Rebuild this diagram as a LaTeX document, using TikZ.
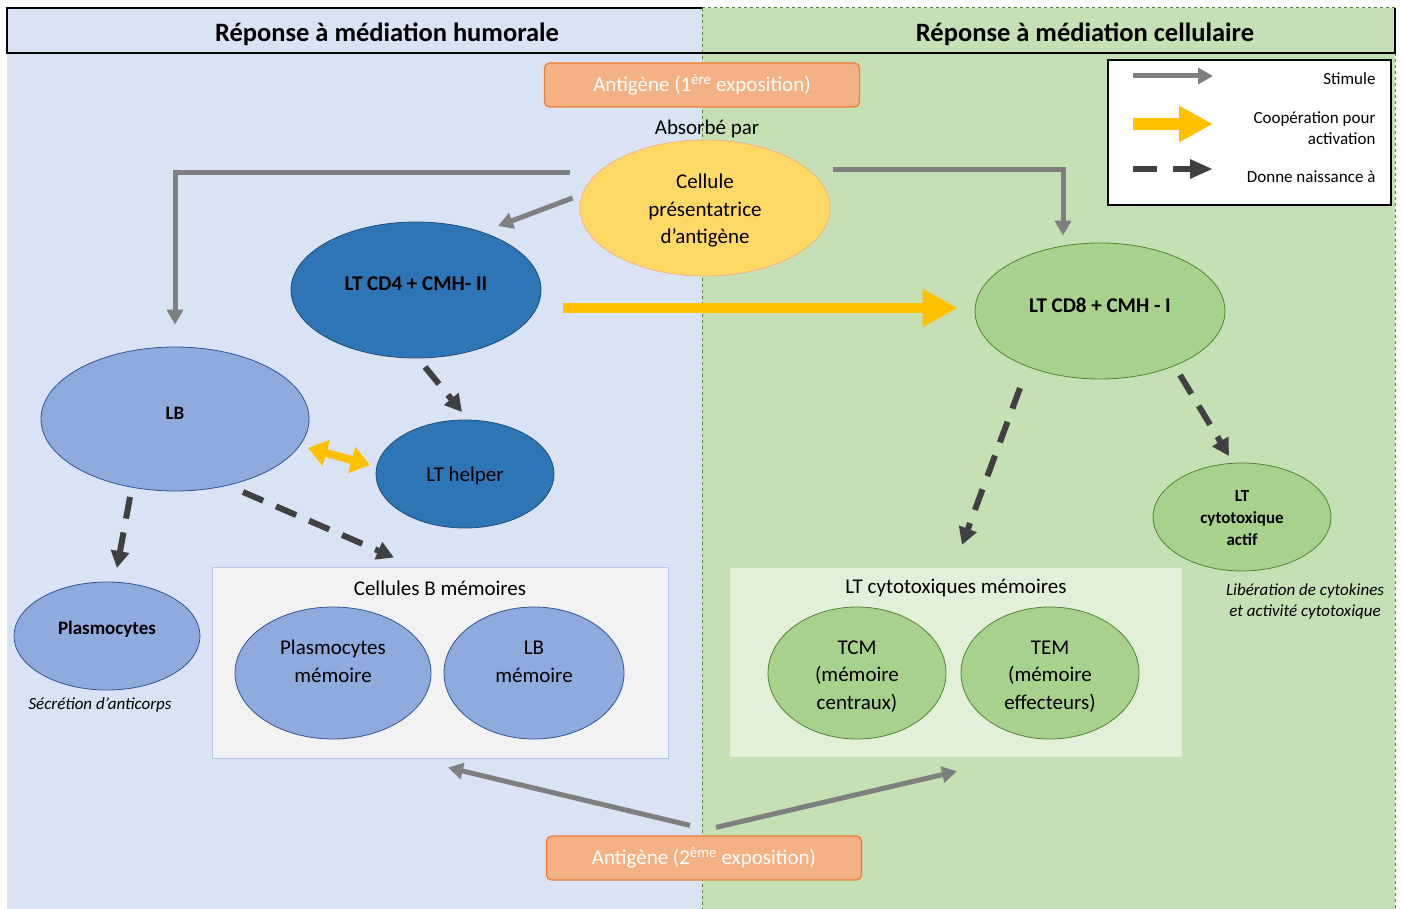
\documentclass[tikz,border=0pt]{standalone}
\usepackage{fontspec}
\setmainfont{Carlito}
\usetikzlibrary{arrows.meta,shapes.geometric}
\definecolor{panelblue}{HTML}{DAE3F3}
\definecolor{panelgreen}{HTML}{C5E0B4}
\definecolor{divgreen}{HTML}{548235}
\definecolor{agfill}{HTML}{F4B183}
\definecolor{agdraw}{HTML}{ED7D31}
\definecolor{cpafill}{HTML}{FFD966}
\definecolor{cpadraw}{HTML}{F4B183}
\definecolor{lbfill}{HTML}{8FAADC}
\definecolor{lbdraw}{HTML}{2F5597}
\definecolor{ltfill}{HTML}{2E75B6}
\definecolor{ltdraw}{HTML}{1F4E79}
\definecolor{cdfill}{HTML}{A9D18E}
\definecolor{cddraw}{HTML}{548235}
\definecolor{coopyellow}{HTML}{FFC000}
\definecolor{stimgray}{HTML}{7F7F7F}
\definecolor{darkdash}{HTML}{404040}
\definecolor{bmemfill}{HTML}{F2F2F2}
\definecolor{bmemdraw}{HTML}{B4C7E7}
\definecolor{tmemfill}{HTML}{E2F0D9}
\newcommand{\raiselbl}[2]{\raisebox{#1pt}[\height][\depth]{#2}}
\begin{document}
\begin{tikzpicture}[x=1pt,y=-1pt,
	cell/.style={ellipse, draw, inner sep=0pt, align=center, line width=0.8pt, font=\fontsize{21}{27.5}\selectfont},
	bcell/.style={cell, fill=lbfill, draw=lbdraw},
	tcell/.style={cell, fill=ltfill, draw=ltdraw},
	gcell/.style={cell, fill=cdfill, draw=cddraw},
	antigen/.style={rectangle, rounded corners=5pt, fill=agfill, draw=agdraw, line width=1.2pt, minimum width=315pt, minimum height=44pt, text=white, font=\fontsize{21}{24}\selectfont},
	stim/.style={draw=stimgray, line width=5pt, -{Triangle[length=15pt,width=16pt]}},
	coop/.style={draw=coopyellow, line width=10pt, -{Triangle[length=35pt,width=36pt]}},
	duo/.style={draw=coopyellow, line width=8pt, {Triangle[length=19pt,width=26pt]}-{Triangle[length=19pt,width=26pt]}},
	birth/.style={draw=darkdash, line width=6pt, dash pattern=on 22pt off 14pt, -{Triangle[length=17pt,width=18pt]}},
	memo/.style={rectangle, inner sep=0pt},
	head/.style={font=\fontsize{26.5}{30}\selectfont\bfseries},
	legtext/.style={anchor=east, align=right, font=\fontsize{17}{21}\selectfont},
	note/.style={align=center, font=\fontsize{17}{21}\selectfont\itshape}
]
	\useasboundingbox (0,0) rectangle (1402,909);
	\path[fill=panelblue] (7,8) rectangle (702,909);
	\path[fill=panelgreen] (702,8) rectangle (1395,909);
	\draw[divgreen, dashed, line width=1pt] (702,8) -- (702,909);
	\draw[divgreen, dashed, line width=1pt] (702,8) -- (1395,8) -- (1395,909);
	\draw[black, line width=1.5pt] (702,8) -- (7,8) -- (7,53) -- (1395,53) -- (1395,8);

	\node (hum) at (387,34)	[head]	{Réponse à médiation humorale};
	\node (cel) at (1085,34)	[head]	{Réponse à médiation cellulaire};

	\node (leg) at (1249.5,132.5)	[rectangle, draw, line width=1.5pt, fill=white, minimum width=283pt, minimum height=145pt]	{};
	\coordinate (s1) at (1133,76);	\coordinate (s2) at (1213,76);
	\coordinate (c1) at (1133,124);	\coordinate (c2) at (1213,124);
	\coordinate (d1) at (1133,169);	\coordinate (d2) at (1213,169);
	\draw[stim] (s1) -- (s2);
	\draw[draw=coopyellow, line width=12pt, -{Triangle[length=34pt,width=34pt]}] (c1) -- (c2);
	\draw[draw=darkdash, line width=6pt, dash pattern=on 24pt off 16pt, -{Triangle[length=23pt,width=18pt]}] (d1) -- (d2);
	\node (lstim) at (1379,79)	[legtext]	{Stimule};
	\node (lcoop) at (1379,128)	[legtext]	{Coopération pour\\activation};
	\node (lbirth) at (1379,177)	[legtext]	{Donne naissance à};

	\node (ag1) at (702,85)	[antigen]	{Antigène (1\textsuperscript{ère} exposition)};
	\node (abs) at (707,129)	[font=\fontsize{21}{25}\selectfont]	{Absorbé par};
	\node (cpa) at (705,208)	[cell, fill=cpafill, draw=cpadraw, minimum width=250pt, minimum height=136pt]	{\raiselbl{-3}{\begin{tabular}{@{}c@{}}Cellule\\présentatrice\\d’antigène\end{tabular}}};

	\node (cd4) at (416,290)	[tcell, minimum width=250pt, minimum height=136pt, font=\fontsize{21}{24}\selectfont\bfseries]	{\raiselbl{6}{LT CD4 + CMH- II}};
	\node (cd8) at (1100,311)	[gcell, minimum width=250pt, minimum height=136pt, font=\fontsize{21}{24}\selectfont\bfseries]	{\raiselbl{6}{LT CD8 + CMH - I}};
	\node (lb) at (175,419)	[bcell, minimum width=268pt, minimum height=144pt, font=\fontsize{19}{24}\selectfont\bfseries]	{\raiselbl{6}{LB}};
	\node (help) at (465,474)	[tcell, minimum width=178pt, minimum height=108pt]	{\raiselbl{-2}{LT helper}};
	\node (actif) at (1242,517)	[gcell, minimum width=178pt, minimum height=108pt, font=\fontsize{17}{22}\selectfont\bfseries]	{\raiselbl{-2}{\begin{tabular}{@{}c@{}}LT\\cytotoxique\\actif\end{tabular}}};
	\node (plasmo) at (107,636)	[bcell, minimum width=186pt, minimum height=108pt, font=\fontsize{19}{22}\selectfont\bfseries]	{\raiselbl{7}{Plasmocytes}};
	\node (secr) at (100,705)	[note]	{Sécrétion d’anticorps};
	\node (lib) at (1305,601)	[note]	{Libération de cytokines\\et activité cytotoxique};

	\node (bmem) at (440,662.5)	[memo, fill=bmemfill, draw=bmemdraw, line width=1pt, minimum width=456pt, minimum height=191pt]	{};
	\node (bmemt) at (440,588)	[font=\fontsize{21}{25}\selectfont]	{Cellules B mémoires};
	\node (pmem) at (333,673)	[bcell, minimum width=196pt, minimum height=132pt]	{\raiselbl{10}{\begin{tabular}{@{}c@{}}Plasmocytes\\mémoire\end{tabular}}};
	\node (lbmem) at (534,673)	[bcell, minimum width=180pt, minimum height=132pt]	{\raiselbl{10}{\begin{tabular}{@{}c@{}}LB\\mémoire\end{tabular}}};

	\node (tmem) at (956,662.5)	[memo, fill=tmemfill, minimum width=452pt, minimum height=189pt]	{};
	\node (tmemt) at (956,588)	[font=\fontsize{21}{25}\selectfont]	{LT cytotoxiques mémoires};
	\node (tcm) at (857,673)	[gcell, minimum width=178pt, minimum height=132pt]	{\raiselbl{-3}{\begin{tabular}{@{}c@{}}TCM\\(mémoire\\centraux)\end{tabular}}};
	\node (tem) at (1050,673)	[gcell, minimum width=178pt, minimum height=132pt]	{\raiselbl{-3}{\begin{tabular}{@{}c@{}}TEM\\(mémoire\\effecteurs)\end{tabular}}};

	\node (ag2) at (704,858)	[antigen]	{Antigène (2\textsuperscript{ème} exposition)};

	\draw[stim] ([shift={(-10,-35)}]cpa.west) -| ([shift={(0,-22)}]lb.north);
	\draw[stim] ([shift={(-7,-10)}]cpa.west) -- ([shift={(82,-64)}]cd4.center);
	\draw[stim] ([shift={(3,-38)}]cpa.east) -| ([shift={(-37,-7)}]cd8.north);
	\draw[coop] ([shift={(22,18)}]cd4.east) -- ([shift={(-17,-3)}]cd8.west);
	\draw[duo] ([shift={(133,29)}]lb.center) -- ([shift={(-95,-9)}]help.center);
	\draw[birth] ([shift={(9,77)}]cd4.center) -- ([shift={(-3,-62)}]help.center);
	\draw[birth] ([shift={(-45,78)}]lb.center) -- ([shift={(10,-68)}]plasmo.center);
	\draw[birth] ([shift={(68,73)}]lb.center) -- ([shift={(-46,-9)}]bmem.north);
	\draw[birth] ([shift={(-80,77)}]cd8.center) -- ([shift={(6,-23)}]tmem.north);
	\draw[birth] ([shift={(80,64)}]cd8.center) -- ([shift={(-13,-61)}]actif.center);
	\draw[stim] ([shift={(-14,-10)}]ag2.north) -- ([shift={(8,9)}]bmem.south);
	\draw[stim] ([shift={(12,-8)}]ag2.north) -- ([shift={(1,14)}]tmem.south);
\end{tikzpicture}
\end{document}
